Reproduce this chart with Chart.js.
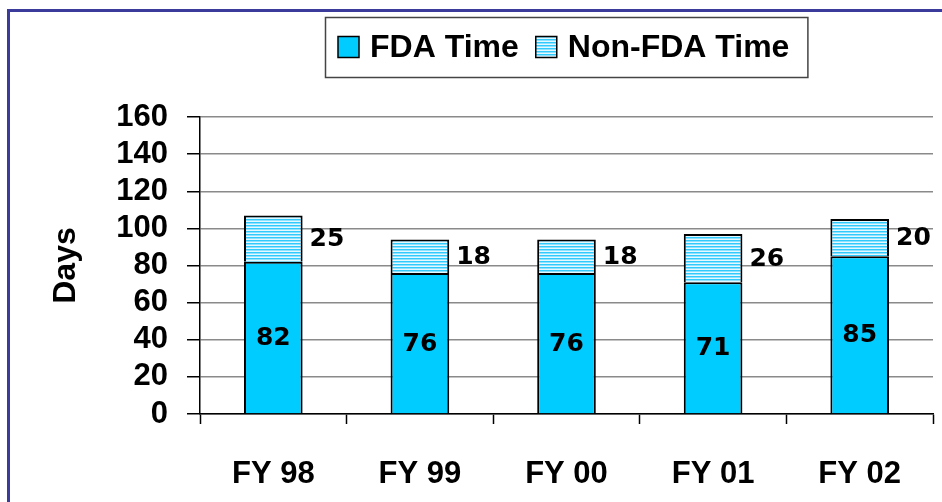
<!DOCTYPE html>
<html>
<head>
<meta charset="utf-8">
<script src="https://cdn.jsdelivr.net/npm/chart.js@4/dist/chart.umd.min.js"></script>
<style>
  html, body { margin: 0; padding: 0; background: #fff; }
  #wrap { width: 942px; height: 502px; position: relative; }
</style>
</head>
<body>
<div id="wrap"><canvas id="chart" width="942" height="502"></canvas></div>
<script>
// Review times by fiscal year (days)
const categories = ['FY 98', 'FY 99', 'FY 00', 'FY 01', 'FY 02'];
const fdaTime = [82, 76, 76, 71, 85];
const nonFdaTime = [25, 18, 18, 26, 20];
const seriesNames = ['FDA Time', 'Non-FDA Time'];
const yTicks = [0, 20, 40, 60, 80, 100, 120, 140, 160];

const FONT = '"Liberation Sans", Arial, sans-serif';

// horizontal stripes for the non-FDA segment
function stripePattern() {
    const c = document.createElement('canvas');
    c.width = 4; c.height = 3;
    const g = c.getContext('2d');
    g.fillStyle = '#e4f8ff'; g.fillRect(0, 0, 4, 3);
    g.fillStyle = '#30cbfc'; g.fillRect(0, 0, 4, 1);
    g.fillStyle = '#8fe2fe'; g.fillRect(0, 1, 4, 1);
    return g.createPattern(c, 'repeat');
}

const ctx = document.getElementById('chart').getContext('2d');
const hatch = stripePattern();

// blue frame on the left and top
const framePlugin = {
    id: 'frame',
    beforeDraw(chart) {
        const c = chart.ctx;
        c.save();
        c.fillStyle = '#fff';
        c.fillRect(0, 0, chart.width, chart.height);
        c.strokeStyle = '#3b3b9b';
        c.lineWidth = 3;
        c.beginPath();
        c.moveTo(8.5, chart.height);
        c.lineTo(8.5, 10.5);
        c.lineTo(chart.width, 10.5);
        c.stroke();
        c.restore();
    }
};

// boxed legend at the top
const legendPlugin = {
    id: 'boxLegend',
    afterDraw(chart) {
        const c = chart.ctx;
        c.save();
        c.font = 'bold 32px ' + FONT;
        c.textBaseline = 'middle';
        c.textAlign = 'left';
        const cy = 47;
        const sq = 21;
        const fills = ['#00ccff', hatch];
        const x0 = 325, padL = 13, gapSq = 11, gapItem = 17;
        let x = x0 + padL;
        chart.data.datasets.forEach((ds, i) => {
            c.fillStyle = fills[i];
            c.fillRect(x, cy - sq / 2, sq, sq);
            c.strokeStyle = '#000';
            c.lineWidth = 1.5;
            c.strokeRect(x, cy - sq / 2, sq, sq);
            x += sq + gapSq;
            c.fillStyle = '#000';
            c.fillText(ds.label, x, cy + 1);
            x += c.measureText(ds.label).width + gapItem;
        });
        const x1 = x - gapItem + 18;
        c.strokeStyle = '#444';
        c.lineWidth = 1.5;
        c.strokeRect(x0 + 0.5, 17.5, x1 - x0, 60);
        c.restore();
    }
};

// value labels: FDA inside the bar, non-FDA beside it
const valueLabels = {
    id: 'valueLabels',
    afterDatasetsDraw(chart) {
        const c = chart.ctx;
        c.save();
        c.font = 'bold 25px "DejaVu Sans", Verdana, sans-serif';
        c.fillStyle = '#000';
        c.textBaseline = 'middle';
        chart.data.datasets.forEach((ds, di) => {
            chart.getDatasetMeta(di).data.forEach((bar, i) => {
                const midY = (bar.y + bar.base) / 2;
                if (di === 0) {
                    c.textAlign = 'center';
                    c.fillText(String(ds.data[i]), bar.x, midY + 1);
                } else {
                    c.textAlign = 'left';
                    c.fillText(String(ds.data[i]), bar.x + bar.width / 2 + 7, midY + 1);
                }
            });
        });
        c.restore();
    }
};

new Chart(ctx, {
    type: 'bar',
    data: {
        labels: categories,
        datasets: [
            {
                label: seriesNames[0],
                data: fdaTime,
                backgroundColor: '#00ccff',
                borderColor: '#000',
                borderWidth: 2,
            },
            {
                label: seriesNames[1],
                data: nonFdaTime,
                backgroundColor: hatch,
                borderColor: '#000',
                borderWidth: 2,
            }
        ]
    },
    options: {
        responsive: false,
        animation: false,
        layout: { padding: { top: 117, right: 9, bottom: 0, left: 0 } },
        datasets: { bar: { categoryPercentage: 1, barPercentage: 0.4 } },
        plugins: {
            legend: { display: false },
            tooltip: { enabled: false },
        },
        scales: {
            x: {
                stacked: true,
                afterFit(scale) { scale.height = 88; },
                grid: {
                    offset: true,
                    drawOnChartArea: false,
                    drawTicks: true,
                    tickLength: 10,
                    tickColor: '#000',
                    tickWidth: 1.5,
                },
                border: { display: true, color: '#000', width: 1.5 },
                ticks: {
                    color: '#000',
                    padding: 32,
                    autoSkip: false,
                    maxRotation: 0,
                    font: { family: FONT, size: 31, weight: 'bold' },
                }
            },
            y: {
                stacked: true,
                min: 0,
                max: 160,
                afterFit(scale) { scale.width = 200; },
                afterBuildTicks(scale) { scale.ticks = yTicks.map(v => ({ value: v })); },
                grid: {
                    color: '#8a8a8a',
                    lineWidth: 1.5,
                    tickColor: '#000',
                    tickLength: 13,
                    tickWidth: 1.5,
                },
                border: { display: true, color: '#000', width: 1.5 },
                ticks: {
                    color: '#000',
                    padding: 19,
                    autoSkip: false,
                    font: { family: FONT, size: 31, weight: 'bold' },
                },
                title: {
                    display: true,
                    text: 'Days',
                    color: '#000',
                    font: { family: FONT, size: 32, weight: 'bold' },
                    padding: { top: 47, bottom: 0 },
                }
            }
        }
    },
    plugins: [framePlugin, valueLabels, legendPlugin]
});
</script>
</body>
</html>
